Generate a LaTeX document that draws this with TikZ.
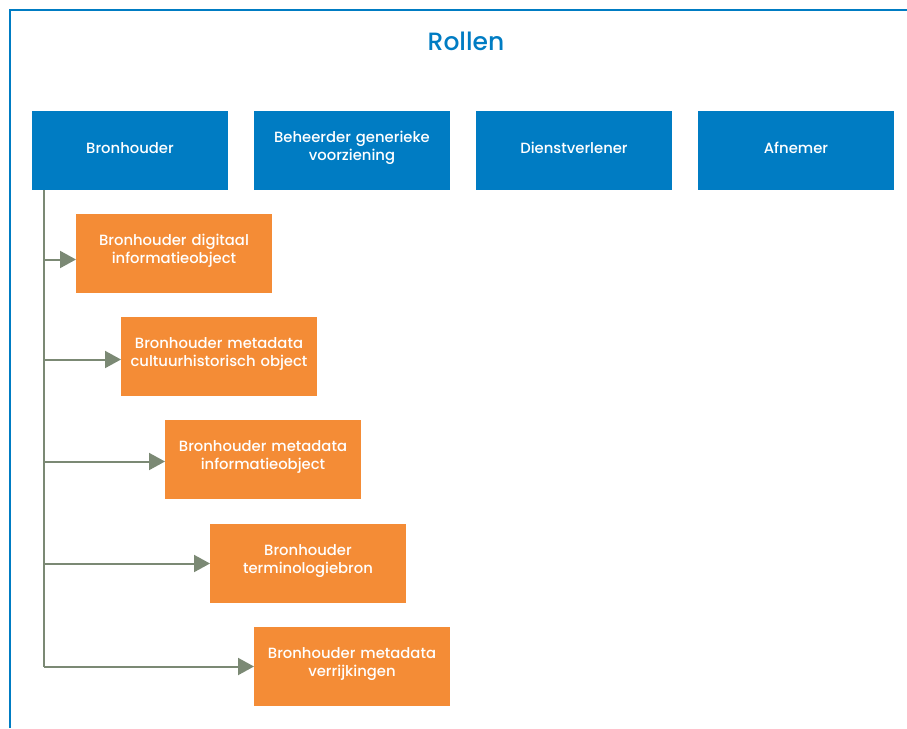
\documentclass[tikz,border=0pt]{standalone}
\usepackage{fontspec}
\setmainfont{Poppins}[UprightFont={* Medium}]
\usepackage{xcolor}
\usetikzlibrary{positioning,arrows.meta}

\definecolor{rolblauw}{RGB}{0,124,195}
\definecolor{roloranje}{RGB}{244,140,54}
\definecolor{rolgrijs}{RGB}{123,137,116}

\begin{document}
\begin{tikzpicture}[x=1pt,y=-1pt]
\tikzset{rol/.style={fill=rolblauw,text=white,minimum width=196pt,minimum height=79pt,
  text width=190pt,align=center,inner sep=0pt,outer sep=0pt,font=\fontsize{14.8}{18}\selectfont,
  execute at end node={\par\vspace{5pt}}}}
\tikzset{subrol/.style={rol,fill=roloranje}}
\tikzset{pijl/.style={draw=rolgrijs,line width=2pt,-{Triangle[length=16pt,width=17pt]}}}

\useasboundingbox (0,0) rectangle (907,728);
\draw[rolblauw,line width=1.5pt] (10,728) -- (10,10) -- (907,10);

\node[text=rolblauw,font=\fontsize{25}{30}\selectfont] (titel) at (466,41) {Rollen};

\node[rol,anchor=north west] (bronhouder) at (32,111) {Bronhouder};
\node[rol,right=26pt of bronhouder] (beheerder) {Beheerder generieke\\voorziening};
\node[rol,right=26pt of beheerder] (dienst) {Dienstverlener};
\node[rol,right=26pt of dienst] (afnemer) {Afnemer};

\node[subrol,anchor=north west] (digitaal) at (76,214) {Bronhouder digitaal\\informatieobject};
\node[subrol,anchor=north west] (cultuur) at (121,317) {Bronhouder metadata\\cultuurhistorisch object};
\node[subrol,anchor=north west] (info) at (165,420) {Bronhouder metadata\\informatieobject};
\node[subrol,anchor=north west] (termino) at (210,524) {Bronhouder\\terminologiebron};
\node[subrol,anchor=north west] (verrijking) at (254,627) {Bronhouder metadata\\verrijkingen};

\coordinate (stam) at (44,190);
\draw[rolgrijs,line width=2pt] (stam) -- (stam |- verrijking.west);
\foreach \n/\dy in {digitaal/6,cultuur/3,info/2,termino/0,verrijking/0}
  \draw[pijl] ([yshift=-\dy pt]stam |- \n.west) -- ([yshift=-\dy pt]\n.west);

\end{tikzpicture}
\end{document}
